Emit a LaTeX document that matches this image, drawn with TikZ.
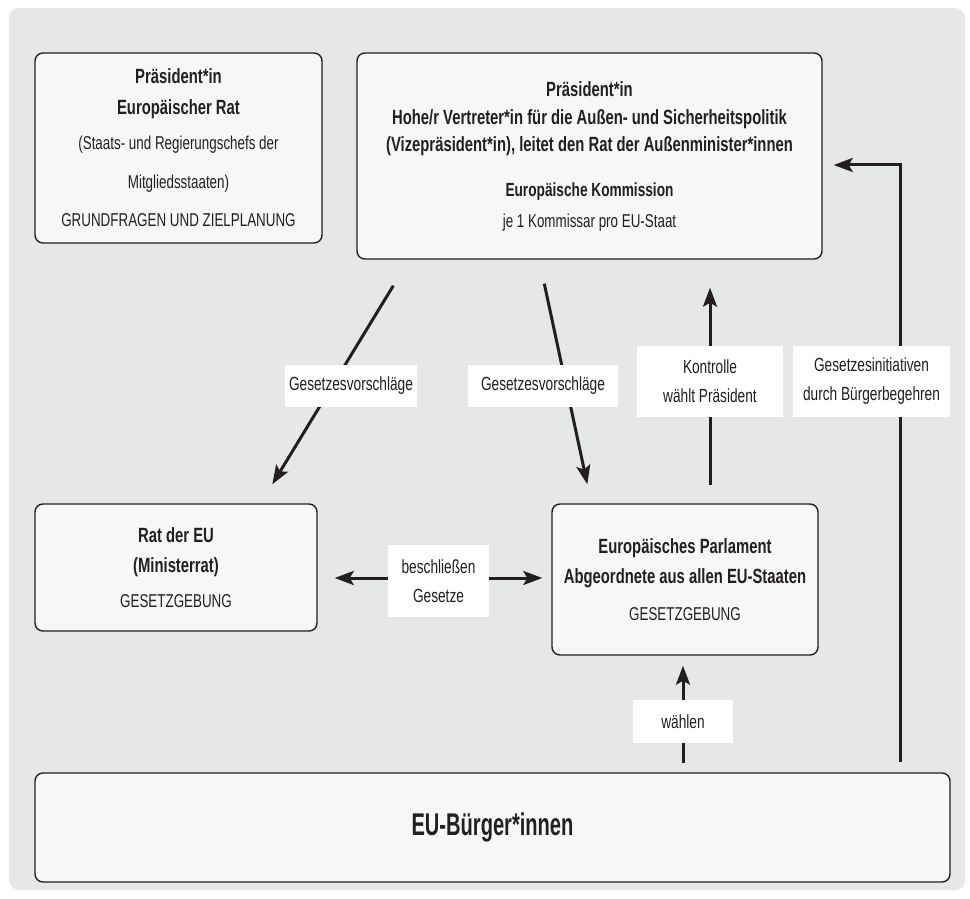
\documentclass[tikz,border=0pt]{standalone}
\usepackage{fontspec}
\setmainfont{Liberation Sans}[FakeStretch=0.72]
\newfontfamily\bigfont{Liberation Sans}[FakeStretch=0.64]
\usetikzlibrary{calc}
\usetikzlibrary{arrows.meta}
\definecolor{bggrey}{HTML}{E6E7E9}
\definecolor{boxfill}{HTML}{F7F7F7}
\definecolor{inkgrey}{HTML}{231F20}
\newcommand{\boxtitle}[1]{{\fontsize{10.3}{14}\selectfont\bfseries #1}}

\begin{document}
\begin{tikzpicture}[x=0.5pt, y=-0.5pt, >={Stealth[length=9.5pt, width=7pt, inset=2pt]}]
        % ================= Stile =================
        \tikzset{
            box_node/.style={draw=inkgrey, line width=0.7pt, fill=boxfill, rounded corners=4pt, align=center, text=inkgrey, inner sep=0pt, font=\fontsize{9.3}{14}\selectfont},
            label_node/.style={fill=white, align=center, text=inkgrey, inner sep=0pt, font=\fontsize{9.5}{14.5}\selectfont},
            arrow_line/.style={line width=1.5pt, draw=inkgrey, ->},
            arrow_both/.style={line width=1.5pt, draw=inkgrey, <->}
        }

        % ================= Hintergrund =================
        \useasboundingbox (0,0) rectangle (970,899);
        \fill[bggrey, rounded corners=5pt] (9,8) rectangle (965,890);

        % ================= Organe =================
        \node[box_node, minimum width=143.5pt, minimum height=95pt] (erat) at (178.5,148)
            {\boxtitle{Präsident*in}\\[1.5pt] \boxtitle{Europäischer Rat}\\[3.5pt]
             (Staats- und Regierungschefs der\\[5.5pt] Mitgliedsstaaten)\\[5pt]
             GRUNDFRAGEN UND ZIELPLANUNG};
        \node[box_node, minimum width=232.5pt, minimum height=103pt] (kom) at (589.5,156)
            {\boxtitle{Präsident*in}\\[0pt]
             \boxtitle{Hohe/r Vertreter*in für die Außen- und Sicherheitspolitik}\\[-0.5pt]
             \boxtitle{(Vizepräsident*in), leitet den Rat der Außenminister*innen}\\[8.5pt]
             {\fontsize{9.5}{14}\selectfont\bfseries Europäische Kommission}\\[1.5pt]
             je 1 Kommissar pro EU-Staat};
        \node[box_node, minimum width=141pt, minimum height=63.5pt] (rat) at (176,567.5)
            {\boxtitle{Rat der EU}\\[1pt] \boxtitle{(Ministerrat)}\\[3.5pt] GESETZGEBUNG};
        \node[box_node, minimum width=133pt, minimum height=75.5pt] (ep) at (685,579.5)
            {\boxtitle{Europäisches Parlament}\\[1pt] \boxtitle{Abgeordnete aus allen EU-Staaten}\\[4.5pt] GESETZGEBUNG};
        \node[box_node, minimum width=457.5pt, minimum height=54.5pt] (buerger) at (492.5,827.5)
            {\bigfont\fontsize{15.7}{18}\selectfont\bfseries EU-Bürger*innen};

        % ================= Pfeile =================
        \draw[arrow_line] ($(kom.south west)+(37,26)$) -- ($(rat.north west)+(238,-19)$);
        \draw[arrow_line] ($(kom.south west)+(188,24)$) -- ($(ep.north west)+(36,-19)$);
        \draw[arrow_line] ($(ep.north)+(25,-18)$) -- ($(kom.south -| ep.north)+(25,28)$);
        \draw[arrow_line] ($(buerger.north east)+(-50,-10)$) |- ($(kom.east)+(11,9)$);
        \draw[arrow_both] ($(rat.east)+(17,10.5)$) -- ($(rat.east -| ep.west)+(-9,10.5)$);
        \draw[arrow_line] ($(ep.south |- buerger.north)+(-2,-9)$) -- ($(ep.south)+(-2,10)$);

        % ================= Beschriftungen =================
        \node[label_node, minimum width=66pt, minimum height=21pt] (lbl_vor1) at (351,386) {Gesetzesvorschläge};
        \node[label_node, minimum width=75pt, minimum height=21pt] (lbl_vor2) at (543,386) {Gesetzesvorschläge};
        \node[label_node, minimum width=73pt, minimum height=35.5pt] (lbl_kontr) at (710,381.5) {Kontrolle\\wählt Präsident};
        \node[label_node, minimum width=78.5pt, minimum height=35.5pt] (lbl_init) at (871.5,381.5) {Gesetzesinitiativen\\durch Bürgerbegehren};
        \node[label_node, minimum width=50.5pt, minimum height=36pt] (lbl_beschl) at (438.5,581) {beschließen\\Gesetze};
        \node[label_node, minimum width=50pt, minimum height=21.5pt] (lbl_waehl) at (683,721.5) {wählen};

    \end{tikzpicture}
\end{document}
